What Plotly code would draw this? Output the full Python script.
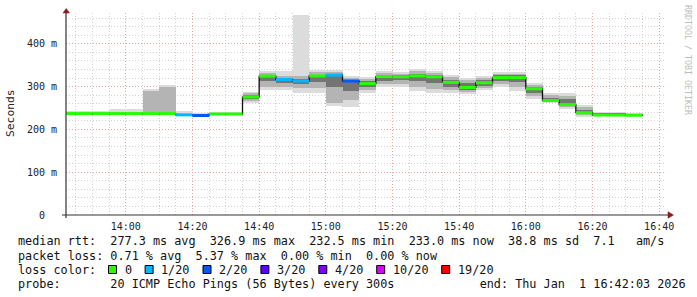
import plotly.graph_objects as go
import pandas as pd

# ---------------- data ----------------
day = "2026-01-01 "
seg_start = ["13:40", "13:45", "13:50", "13:55", "14:00", "14:05", "14:10", "14:15",
             "14:20", "14:25", "14:30", "14:35", "14:40", "14:45", "14:50", "14:55",
             "15:00", "15:05", "15:10", "15:15", "15:20", "15:25", "15:30", "15:35",
             "15:40", "15:45", "15:50", "15:55", "16:00", "16:05", "16:10", "16:15",
             "16:20", "16:25", "16:30"]
last_end = "16:35"

median_ms = [237, 237, 237, 237, 237, 237, 237, 234, 232.5, 236, 236, 276,
             324.5, 316.5, 313, 325, 326.9, 313, 307, 323.5, 323, 325, 323, 310,
             298, 309, 321, 321, 295, 267.6, 258, 239, 233.5, 233.5, 233]
loss_of20 = [0, 0, 0, 0, 0, 0, 0, 1, 2, 0, 0, 0,
             0, 1, 1, 0, 1, 2, 0, 0, 0, 0, 0, 0,
             0, 0, 0, 0, 0, 0, 0, 0, 0, 0, 0]
# outer (light) smoke band
smoke_lo1 = [233, 233, 233, 233, 233, 233, 234, 231, 230, 233, 233, 262,
             291, 291, 285, 285, 255, 252, 285, 299, 299, 289, 285, 285,
             282, 291, 299, 289, 272, 261, 247.5, 230, 232, 232, 232]
smoke_hi1 = [242, 244, 243, 247, 247, 295, 304, 242, 238, 240, 240, 288,
             336, 336, 468, 339, 339, 325, 322, 336, 333, 341, 337, 328,
             320, 325, 333, 333, 309, 285, 285, 258, 240, 240, 238]
# middle smoke band
smoke_lo2 = [234, 234, 234, 234, 234, 234, 235, 232, 231, 234, 234, 266,
             298, 300, 296, 296, 262, 268, 292, 305, 306, 298, 295, 292,
             288, 297, 305, 300, 278, 263, 252, 234, 232, 232, 232]
smoke_hi2 = [239, 240, 240, 241, 241, 289, 300, 237, 236, 239, 239, 284,
             332, 325, 325, 333, 335, 320, 318, 332, 330, 337, 332, 322,
             315, 320, 330, 330, 304, 280, 278, 252, 239, 239, 237]
# inner (dark) smoke band
smoke_lo3 = [235, 235, 235, 235, 234, 234, 235, 232, 232, 235, 234, 270,
             312, 308, 305, 310, 300, 290, 298, 314, 316, 312, 308, 300,
             292, 302, 312, 310, 285, 265, 255, 236, 233, 233, 233]
smoke_hi3 = [238, 238, 238, 238, 238, 238, 239, 236, 235, 238, 238, 280,
             328, 320, 318, 328, 330, 316, 312, 328, 327, 330, 328, 316,
             308, 315, 327, 327, 300, 274, 270, 246, 238, 238, 236]

y_tickvals = [0, 100, 200, 300, 400]
y_ticktext = ["0\u00a0\u00a0", "100 m", "200 m", "300 m", "400 m"]

loss_labels = ["0", "1/20", "2/20", "3/20", "4/20", "10/20", "19/20"]
loss_levels = [0, 1, 2, 3, 4, 10, 19]
loss_colors = ["#26ff00", "#00b8ff", "#0059ff", "#5e00ff", "#7e00ff", "#dd00ff", "#ff0000"]

row_median = "median rtt:  277.3 ms avg  326.9 ms max  232.5 ms min  233.0 ms now  38.8 ms sd  7.1   am/s"
row_loss = "packet loss: 0.71 % avg  5.37 % max  0.00 % min  0.00 % now"
row_color = "loss color:"
row_probe = "probe:       20 ICMP Echo Pings (56 Bytes) every 300s            end: Thu Jan  1 16:42:03 2026"
y_title = "Seconds"
watermark = "RRDTOOL / TOBI OETIKER"
x_start = day + "13:42:03"
x_end = day + "16:42:03"
y_max = 472

# ---------------- geometry ----------------
W, H = 697, 297
L, R, T, B = 66, 31, 13, 82
PW, PH = W - L - R, H - T - B
MONO = "DejaVu Sans Mono"


def px(xp):
    return (xp - L) / PW


def py(yp):
    return (T + PH - yp) / PH


def nb(s):
    return s.replace(" ", "\u00a0")


x = pd.to_datetime([day + s for s in seg_start])
x_ends = list(x[1:]) + [pd.Timestamp(day + last_end)]
seg_ms = 300000


def loss_idx(v):
    k = 0
    for i, lv in enumerate(loss_levels):
        if v >= lv:
            k = i
    return k


fig = go.Figure()
for lo, hi, col in [(smoke_lo1, smoke_hi1, "#dcdcdc"),
                    (smoke_lo2, smoke_hi2, "#b4b4b4"),
                    (smoke_lo3, smoke_hi3, "#747474")]:
    fig.add_trace(go.Bar(x=x, base=lo, y=[h - l for l, h in zip(lo, hi)],
                         width=seg_ms, offset=0, marker=dict(color=col, line=dict(width=0)),
                         showlegend=False, hoverinfo="skip"))

# median step line (black connectors)
xl = list(x) + [x_ends[-1]]
yl = list(median_ms) + [median_ms[-1]]
fig.add_trace(go.Scatter(x=xl, y=yl, mode="lines", line=dict(color="#111111", width=1.3, shape="hv"),
                         showlegend=False, hoverinfo="skip"))

# median segments coloured by loss
for k, col in enumerate(loss_colors):
    sx, sy = [], []
    for s, e, m, v in zip(x, x_ends, median_ms, loss_of20):
        if loss_idx(v) == k:
            sx += [s, e, None]
            sy += [m, m, None]
    if sx:
        fig.add_trace(go.Scatter(x=sx, y=sy, mode="lines", line=dict(color=col, width=3),
                                 showlegend=False, hoverinfo="skip", connectgaps=False))

grid_minor = "#d2d2d2"
grid_major = "#e9a3a3"
tick_font = dict(family=MONO, size=10, color="#222222")

fig.update_layout(
    width=W, height=H, margin=dict(l=L, r=R, t=T, b=B, pad=0),
    paper_bgcolor="white", plot_bgcolor="white", barmode="overlay", bargap=0,
    showlegend=False,
    xaxis=dict(type="date", range=[x_start, x_end], tickmode="linear",
               tick0=day + "14:00", dtick=20 * 60000, tickformat="%H:%M",
               showgrid=True, gridcolor=grid_major, griddash="1px,2px", gridwidth=1,
               minor=dict(dtick=5 * 60000, tick0=day + "14:00", showgrid=True,
                          gridcolor=grid_minor, griddash="1px,2px", gridwidth=1),
               showline=False, zeroline=False, ticks="", tickfont=tick_font,
               ticklabelstandoff=4, fixedrange=True),
    yaxis=dict(range=[0, y_max], tickmode="array", tickvals=y_tickvals, ticktext=y_ticktext,
               showgrid=True, gridcolor=grid_major, griddash="1px,2px", gridwidth=1,
               minor=dict(dtick=20, tick0=0, showgrid=True, gridcolor=grid_minor,
                          griddash="1px,2px", gridwidth=1),
               showline=False, zeroline=False, ticks="", tickfont=tick_font,
               ticklabelstandoff=8, fixedrange=True),
)

shapes = []
axis_col = "#333333"
arrow_col = "#8b1a1a"
shapes.append(dict(type="line", xref="paper", yref="paper", x0=px(62), x1=px(669),
                   y0=py(215), y1=py(215), line=dict(color=axis_col, width=1.2)))
shapes.append(dict(type="line", xref="paper", yref="paper", x0=px(66), x1=px(66),
                   y0=py(218), y1=py(12), line=dict(color=axis_col, width=1.2)))
shapes.append(dict(type="path", xref="paper", yref="paper",
                   path=f"M {px(63)} {py(13)} L {px(69.5)} {py(13)} L {px(66.2)} {py(8.5)} Z",
                   fillcolor=arrow_col, line=dict(color=arrow_col, width=0.5)))
shapes.append(dict(type="path", xref="paper", yref="paper",
                   path=f"M {px(668)} {py(211.7)} L {px(668)} {py(218.3)} L {px(673.5)} {py(215)} Z",
                   fillcolor=arrow_col, line=dict(color=arrow_col, width=0.5)))

ann = []
leg_font = dict(family=MONO, size=11.8, color="#111111")
for yy, txt in [(241.5, row_median), (255.5, row_loss), (269.5, row_color), (283.5, row_probe)]:
    ann.append(dict(xref="paper", yref="paper", x=px(16), y=py(yy), xanchor="left", yanchor="middle",
                    text=nb(txt), showarrow=False, font=leg_font))

cw = 7.1
bx = 108.5
for lab, col in zip(loss_labels, loss_colors):
    shapes.append(dict(type="rect", xref="paper", yref="paper", x0=px(bx), x1=px(bx + 8),
                       y0=py(273.5), y1=py(265.5), fillcolor=col, line=dict(color="#000000", width=1)))
    tx = bx + 14.3
    ann.append(dict(xref="paper", yref="paper", x=px(tx), y=py(269.5), xanchor="left", yanchor="middle",
                    text=lab, showarrow=False, font=leg_font))
    bx = tx + len(lab) * cw + 15.2

ann.append(dict(xref="paper", yref="paper", x=px(10), y=py(113), xanchor="center", yanchor="middle",
                text=y_title, textangle=-90, showarrow=False,
                font=dict(family=MONO, size=11.3, color="#222222")))
ann.append(dict(xref="paper", yref="paper", x=px(688), y=py(60), xanchor="center", yanchor="middle",
                text=nb(watermark), textangle=90, showarrow=False,
                font=dict(family=MONO, size=8.3, color="#bdbdbd")))

fig.update_layout(shapes=shapes, annotations=ann)
fig.write_html("out.html")
